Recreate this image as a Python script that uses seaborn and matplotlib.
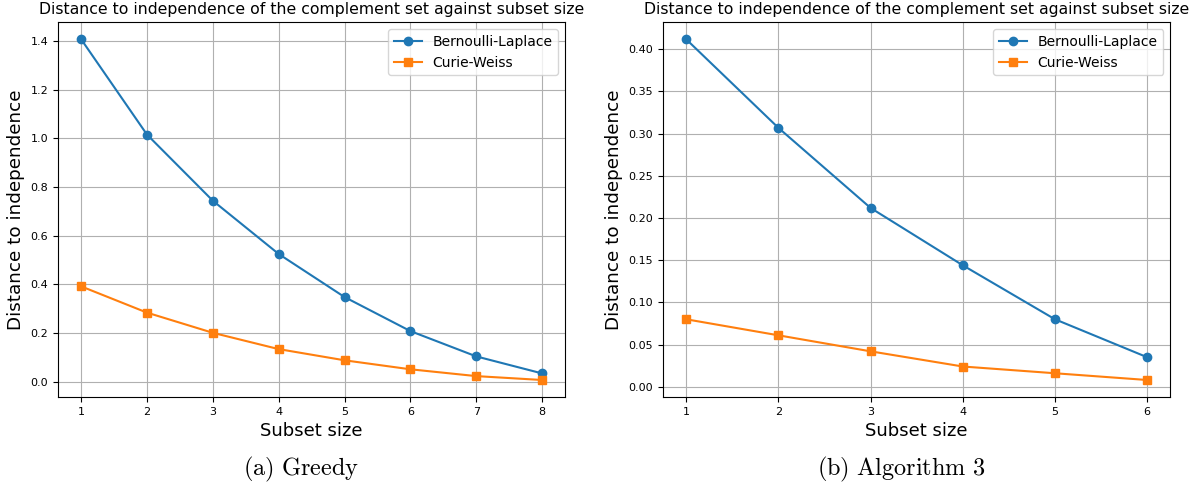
import numpy as np
import pandas as pd
import seaborn as sns
import matplotlib.pyplot as plt

#_____ data
sizes_greedy = [1, 2, 3, 4, 5, 6, 7, 8]
bl_greedy = [1.408, 1.016, 0.744, 0.525, 0.348, 0.208, 0.104, 0.034]
cw_greedy = [0.392, 0.284, 0.201, 0.134, 0.088, 0.051, 0.023, 0.007]

sizes_alg3 = [1, 2, 3, 4, 5, 6]
bl_alg3 = [0.412, 0.307, 0.212, 0.144, 0.080, 0.035]
cw_alg3 = [0.080, 0.061, 0.042, 0.024, 0.016, 0.008]

series_names = ['Bernoulli-Laplace', 'Curie-Weiss']
markers = ['o', 's']
colors = ['#1f77b4', '#ff7f0e']
captions = [r'$\mathrm{(a)\ Greedy}$', r'$\mathrm{(b)\ Algorithm\ 3}$']
title = 'Distance to independence of the complement set against subset size'

plt.rcParams['mathtext.fontset'] = 'cm'

fig = plt.figure(figsize=(11.99, 4.92), dpi=100)
ax1 = fig.add_axes([0.0484, 0.193, 0.423, 0.762])
ax2 = fig.add_axes([0.553, 0.193, 0.423, 0.762])

panels = [
    (ax1, sizes_greedy, [bl_greedy, cw_greedy]),
    (ax2, sizes_alg3, [bl_alg3, cw_alg3]),
]

for i, (ax, xs, ys) in enumerate(panels):
    for name, vals, m, c in zip(series_names, ys, markers, colors):
        df = pd.DataFrame({'size': xs, 'dist': vals})
        sns.lineplot(data=df, x='size', y='dist', marker=m, color=c, label=name,
                     markersize=6, markeredgecolor=c, markeredgewidth=1, linewidth=1.5, ax=ax)
    ax.set_xticks(xs)
    ax.grid(True, color='#b0b0b0', linewidth=0.8)
    ax.tick_params(labelsize=8)
    ax.set_title(title, fontsize=11.3)
    ax.set_xlabel('Subset size', fontsize=13)
    ax.set_ylabel('Distance to independence', fontsize=13.2)
    ax.legend(loc='upper right', fontsize=10)

ax2.set_yticks(np.arange(0, 0.41, 0.05))
ax2.yaxis.set_major_formatter(plt.FormatStrFormatter('%.2f'))

fig.text(0.251, 0.045, captions[0], ha='center', va='center', fontsize=17.5)
fig.text(0.7515, 0.045, captions[1], ha='center', va='center', fontsize=17.5)

fig.savefig('out.png', dpi=100)
